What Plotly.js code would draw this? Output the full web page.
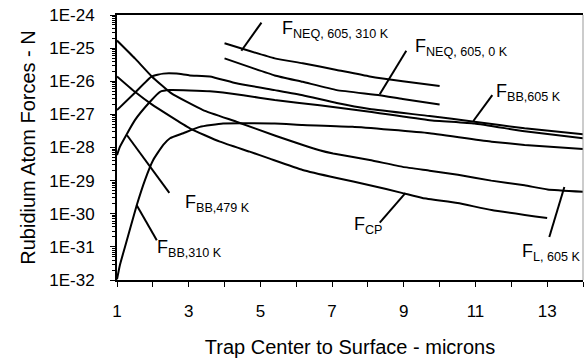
<!DOCTYPE html>
<html><head><meta charset="utf-8">
<script src="https://cdn.plot.ly/plotly-3.0.1.min.js"></script>
<style>html,body{margin:0;padding:0;background:#fff}#chart{width:584px;height:360px}</style>
</head><body><div id="chart"></div>
<script>
// ---- data ----
const xNEQ310 = [4.0, 5.4, 6.18, 7.13, 8.05, 8.97, 10.0];
const yNEQ310 = [1.4e-25, 4.9e-26, 3.5e-26, 2.2e-26, 1.4e-26, 1.0e-26, 7.2e-27];

const xNEQ0 = [4.0, 5.4, 6.18, 7.13, 8.33, 8.97, 10.0];
const yNEQ0 = [4.9e-26, 1.5e-26, 9.6e-27, 5.4e-27, 3.8e-27, 2.9e-27, 2.0e-27];

const xBB605 = [1.0, 1.5, 1.97, 2.29, 2.66, 3.03, 3.59, 4.33, 5.4, 6.18, 7.13, 8.05, 9.72, 10.97, 12.37, 14.0];
const yBB605 = [1.35e-27, 4.5e-27, 1.4e-26, 1.7e-26, 1.7e-26, 1.5e-26, 1.4e-26, 8.7e-27, 5.4e-27, 3.8e-27, 2.2e-27, 1.45e-27, 8.9e-28, 6.0e-28, 3.8e-28, 2.5e-28];

const xBB479 = [1.0, 1.08, 1.5, 1.92, 2.2, 2.48, 3.59, 4.52, 5.4, 6.65, 8.05, 9.72, 10.97, 12.37, 14.0];
const yBB479 = [5.9e-29, 1.05e-28, 6.7e-28, 2.4e-27, 4.8e-27, 5.4e-27, 5.0e-27, 3.8e-27, 2.7e-27, 1.9e-27, 1.2e-27, 6.7e-28, 5.3e-28, 3.1e-28, 1.9e-28];

const xBB310 = [1.0, 1.08, 1.22, 1.55, 1.78, 2.01, 2.29, 2.48, 2.85, 3.31, 3.96, 5.4, 6.18, 7.57, 9.72, 11.45, 12.37, 14.0];
const yBB310 = [1.05e-32, 2.8e-32, 9.8e-32, 1.8e-30, 1.04e-29, 4.2e-29, 1.2e-28, 1.9e-28, 2.7e-28, 4.2e-28, 5.3e-28, 5.3e-28, 4.8e-28, 4.2e-28, 2.7e-28, 1.5e-28, 1.2e-28, 9.0e-29];

const xL605 = [1.0, 1.5, 1.97, 2.52, 3.4, 4.33, 5.4, 6.65, 7.03, 8.05, 8.97, 9.72, 10.51, 11.44, 12.37, 13.01, 14.0];
const yL605 = [1.7e-25, 4.9e-26, 1.4e-26, 4.3e-27, 1.35e-27, 6.0e-28, 2.3e-28, 8.3e-29, 6.6e-29, 4.2e-29, 2.6e-29, 2.0e-29, 1.5e-29, 1.0e-29, 7.2e-30, 5.4e-30, 4.6e-30];

const xCP = [1.0, 1.5, 1.97, 3.03, 3.87, 4.7, 5.26, 6.18, 7.13, 8.05, 8.97, 9.52, 10.5, 11.45, 13.0];
const yCP = [1.4e-26, 4.8e-27, 2.0e-27, 3.8e-28, 1.5e-28, 7.5e-29, 4.6e-29, 2.1e-29, 1.2e-29, 7.3e-30, 4.2e-30, 3.0e-30, 2.1e-30, 1.3e-30, 7.4e-31];

const yTickVals = [1e-32, 1e-31, 1e-30, 1e-29, 1e-28, 1e-27, 1e-26, 1e-25, 1e-24];
const yTickText = ['1E-32', '1E-31', '1E-30', '1E-29', '1E-28', '1E-27', '1E-26', '1E-25', '1E-24'];

const seriesNames = ['F NEQ,605,310K', 'F NEQ,605,0K', 'F BB,605K', 'F BB,479K', 'F BB,310K', 'F L,605K', 'F CP'];
const seriesX = [xNEQ310, xNEQ0, xBB605, xBB479, xBB310, xL605, xCP];
const seriesY = [yNEQ310, yNEQ0, yBB605, yBB479, yBB310, yL605, yCP];

// labels: text, position (x, log10 y) of left / middle
const labelTexts = ['F<sub>NEQ, 605, 310 K</sub>', 'F<sub>NEQ, 605, 0 K</sub>', 'F<sub>BB,605 K</sub>',
  'F<sub>BB,479 K</sub>', 'F<sub>BB,310 K</sub>', 'F<sub>L, 605 K</sub>', 'F<sub>CP</sub>'];
const labelPos = [[5.54, -24.45], [9.25, -24.98], [11.53, -26.34], [2.84, -29.69], [2.06, -31.05], [12.23, -31.18], [7.55, -30.36]];
// leader lines: [x0, log y0, x1, log y1]
const leaders = [[4.47, -25.08, 5.03, -24.23], [8.33, -26.39, 9.07, -25.08], [10.94, -27.20, 11.47, -26.42],
  [1.28, -27.63, 2.46, -29.37], [1.55, -29.74, 2.11, -30.80], [13.48, -29.19, 13.06, -30.70], [9.05, -29.37, 8.33, -30.27]];

const FONT = '"Liberation Sans", Arial, sans-serif';
const XR = [1, 14], YR = [-32, -24];
const px = x => (x - XR[0]) / (XR[1] - XR[0]);
const py = e => (e - YR[0]) / (YR[1] - YR[0]);

const traces = seriesX.map((xs, i) => ({
  x: xs, y: seriesY[i], name: seriesNames[i], type: 'scatter', mode: 'lines',
  line: {color: '#000', width: 2, shape: 'spline', smoothing: 0.4},
  hoverinfo: 'skip', showlegend: false
}));

const annotations = labelTexts.map((t, i) => ({
  text: t, x: labelPos[i][0], y: labelPos[i][1], xref: 'x', yref: 'y',
  xanchor: 'left', yanchor: 'middle', showarrow: false,
  font: {family: FONT, size: 18, color: '#000'}
}));

const shapes = leaders.map(l => ({
  type: 'line', xref: 'paper', yref: 'paper', x0: px(l[0]), y0: py(l[1]), x1: px(l[2]), y1: py(l[3]),
  line: {color: '#000', width: 2}
}));
shapes.push({type: 'line', xref: 'paper', yref: 'paper', x0: 1, x1: 1, y0: 0, y1: 1, line: {color: '#999', width: 1}});

const layout = {
  width: 584, height: 360,
  margin: {l: 117, r: 1, t: 15, b: 80},
  paper_bgcolor: '#fff', plot_bgcolor: '#fff',
  font: {family: FONT, color: '#000'},
  showlegend: false,
  xaxis: {
    range: XR, tick0: 1, dtick: 2, showgrid: false, zeroline: false,
    showline: true, linecolor: '#000', linewidth: 2, mirror: true,
    ticks: 'outside', ticklen: 5, tickwidth: 1, tickcolor: '#000',
    minor: {dtick: 1, ticks: 'outside', ticklen: 5, tickwidth: 1, tickcolor: '#000', showgrid: false},
    tickfont: {family: FONT, size: 17, color: '#000'},
    ticklabelstandoff: 10,
    title: {text: 'Trap Center to Surface - microns', font: {family: FONT, size: 20, color: '#000'}, standoff: 20}
  },
  yaxis: {
    type: 'log', range: YR, showgrid: false, zeroline: false,
    showline: true, linecolor: '#000', linewidth: 2,
    tickvals: yTickVals, ticktext: yTickText,
    ticks: 'outside', ticklen: 5, tickwidth: 1, tickcolor: '#000',
    minor: {dtick: 'D1', ticks: 'outside', ticklen: 3, tickwidth: 1, tickcolor: '#000', showgrid: false},
    tickfont: {family: FONT, size: 17, color: '#000'},
    ticklabelstandoff: 12,
    title: {text: 'Rubidium Atom Forces - N', font: {family: FONT, size: 20, color: '#000'}, standoff: 8}
  },
  annotations: annotations,
  shapes: shapes
};

Plotly.newPlot('chart', traces, layout, {displayModeBar: false, staticPlot: true});
</script>
</body></html>
